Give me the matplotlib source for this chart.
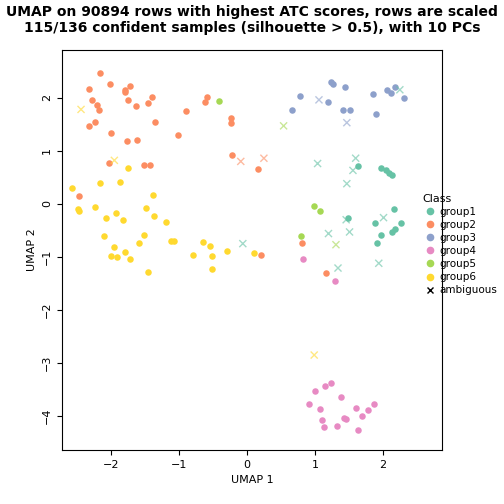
import numpy as np
import matplotlib.pyplot as plt
from matplotlib.lines import Line2D

colors = {'group1': '#66C2A5', 'group2': '#FC8D62', 'group3': '#8DA0CB',
          'group4': '#E78AC3', 'group5': '#A6D854', 'group6': '#FFD92F'}

g1_x = [1.64, 1.97, 2.04, 2.09, 2.14, 2.17, 1.49, 1.89, 2.27, 2.18, 2.14, 1.97, 1.92]
g1_y = [0.71, 0.68, 0.64, 0.58, 0.54, -0.09, -0.26, -0.36, -0.36, -0.48, -0.53, -0.58, -0.74]
g2_x = [-2.16, -2.01, -1.72, -2.32, -1.80, -1.79, -1.39, -2.28, -1.75, -0.59, -0.61, -2.20, -2.17,
        -1.63, -1.45, -0.89, -0.24, -0.23, -1.35, -2.23, -2.33, -2.00, -1.01, -1.76, -1.62, -0.22,
        0.17, -2.03, -1.52, -1.42, -2.47, 0.21, 0.81, 1.16]
g2_y = [2.47, 2.26, 2.23, 2.17, 2.14, 2.11, 2.02, 1.96, 1.96, 2.01, 1.92, 1.86, 1.76,
        1.85, 1.90, 1.75, 1.62, 1.53, 1.55, 1.54, 1.47, 1.33, 1.30, 1.19, 1.20, 0.92,
        0.66, 0.77, 0.73, 0.74, 0.14, -0.97, -0.74, -1.30]
g3_x = [1.23, 1.27, 1.44, 0.78, 1.20, 0.67, 1.41, 1.51, 1.85, 2.06, 2.12, 2.18, 2.31, 1.90]
g3_y = [2.30, 2.26, 2.20, 2.03, 1.92, 1.77, 1.76, 1.77, 2.07, 2.15, 2.09, 2.20, 2.00, 1.70]
g4_x = [0.83, 1.29, 1.00, 1.15, 1.24, 1.39, 0.91, 1.08, 1.87, 1.78, 1.60, 1.70, 1.43, 1.46,
        1.11, 1.14, 1.33, 1.64]
g4_y = [-1.04, -1.46, -3.52, -3.44, -3.38, -3.64, -3.77, -3.87, -3.77, -3.88, -3.85, -4.00,
        -4.03, -4.06, -4.08, -4.21, -4.18, -4.27]
g5_x = [-0.41, 0.99, 1.07, 0.80]
g5_y = [1.94, -0.05, -0.14, -0.61]
g6_x = [-1.75, -2.16, -1.86, -2.57, -1.38, -2.48, -2.47, -2.23, -1.48, -1.92, -2.08, -1.82,
        -1.37, -1.19, -2.10, -1.52, -1.58, -1.12, -1.07, -1.95, -2.00, -1.91, -1.80, -1.72,
        -1.46, -0.80, -0.64, -0.55, -0.52, -0.51, -0.29, 0.11]
g6_y = [0.68, 0.39, 0.41, 0.30, 0.16, -0.10, -0.13, -0.06, -0.07, -0.18, -0.27, -0.31,
        -0.23, -0.35, -0.61, -0.59, -0.74, -0.70, -0.70, -0.82, -0.99, -1.01, -0.91, -1.04,
        -1.28, -0.97, -0.72, -0.79, -0.99, -1.23, -0.89, -0.93]

# ambiguous samples, coloured by their best-guess class
amb_x = [-2.44, -1.95, -0.09, 0.25, -0.06, 1.06, 1.47, 2.25, 0.54, 1.04, 1.60, 1.56, 1.47,
         1.46, 2.01, 1.20, 1.51, 1.34, 1.94, 1.31, 0.99]
amb_y = [1.78, 0.82, 0.80, 0.86, -0.75, 1.96, 1.53, 2.15, 1.47, 0.76, 0.86, 0.63, 0.38,
         -0.30, -0.26, -0.56, -0.53, -1.21, -1.12, -0.77, -2.85]
amb_cls = ['group6', 'group6', 'group2', 'group2', 'group1', 'group3', 'group3', 'group1',
           'group5', 'group1', 'group1', 'group1', 'group1', 'group1', 'group1', 'group1',
           'group1', 'group1', 'group1', 'group5', 'group6']

groups = [('group1', g1_x, g1_y), ('group2', g2_x, g2_y), ('group3', g3_x, g3_y),
          ('group4', g4_x, g4_y), ('group5', g5_x, g5_y), ('group6', g6_x, g6_y)]

fig = plt.figure(figsize=(5.04, 5.04), dpi=100)
ax = fig.add_axes([62/504, 54/504, 380/504, 400/504])
for name, xs, ys in groups:
    ax.scatter(xs, ys, s=22, color=colors[name], linewidths=0)
ax.scatter(amb_x, amb_y, marker='x', s=26, linewidths=1,
           color=[colors[c] for c in amb_cls], alpha=0.6)

ax.set_xlim(-2.72, 2.87)
ax.set_ylim(-4.64, 2.9)
ax.set_xticks([-2, -1, 0, 1, 2])
ax.set_yticks([-4, -3, -2, -1, 0, 1, 2])
ax.tick_params(labelsize=8)
for lab in ax.get_yticklabels():
    lab.set_rotation(90)
    lab.set_va('center')
ax.set_xlabel('UMAP 1', fontsize=8)
ax.set_ylabel('UMAP 2', fontsize=8)
fig.suptitle('UMAP on 90894 rows with highest ATC scores, rows are scaled\n'
             '115/136 confident samples (silhouette > 0.5), with 10 PCs',
             fontsize=10, fontweight='bold', y=0.99)

handles = [Line2D([], [], marker='o', ls='', color=colors[n], markersize=4.5, label=n)
           for n, _, _ in groups]
handles.append(Line2D([], [], marker='x', ls='', color='black', markersize=4.5, label='ambiguous'))
fig.legend(handles=handles, loc='center left', bbox_to_anchor=(0.83, 0.515), frameon=False,
           title='Class', fontsize=7.5, title_fontsize=8, alignment='left',
           handletextpad=0.1, labelspacing=0.3, borderaxespad=0, handlelength=1.5)

fig.savefig('out.png', dpi=100)
